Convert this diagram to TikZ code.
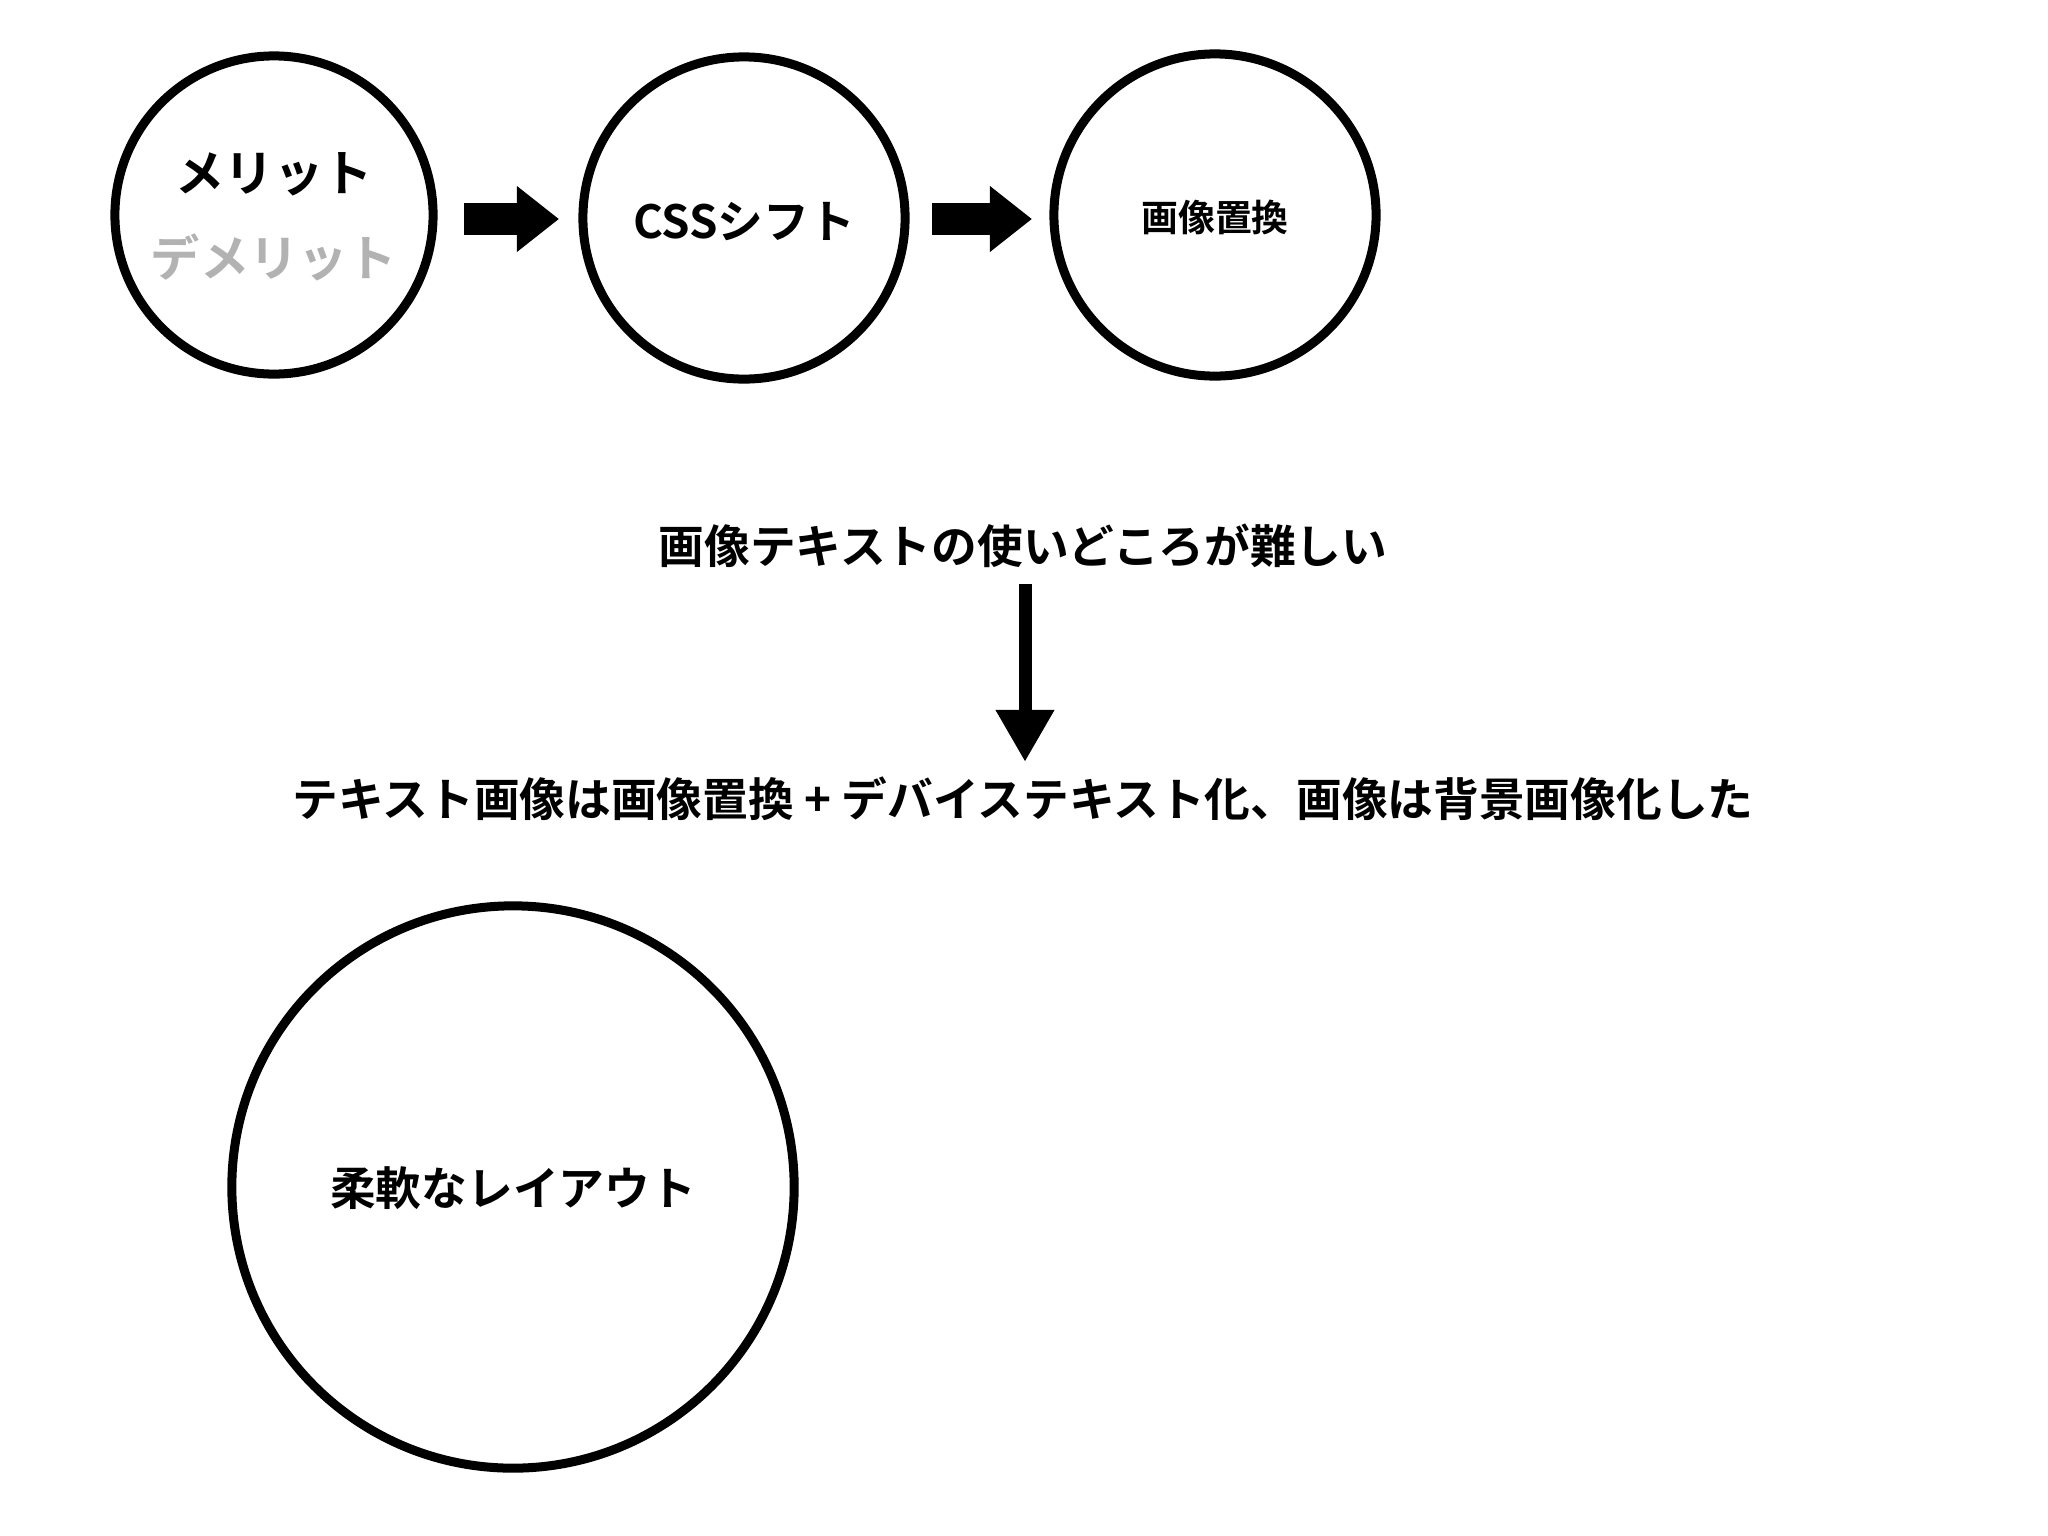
\documentclass[tikz,border=0pt]{standalone}
\usepackage{fontspec}
\setmainfont{Noto Sans CJK JP Bold}
\usetikzlibrary{arrows.meta}
\begin{document}
\begin{tikzpicture}[x=0.01cm,y=-0.01cm,
  circ/.style={draw,circle,line width=0.09cm,inner sep=0},
  blk/.style={line width=0.31cm,-{Triangle[width=0.63cm,length=0.42cm]}},
  vblk/.style={line width=0.13cm,-{Triangle[width=0.55cm,length=0.52cm]}},
  lbl/.style={font=\fontsize{13pt}{15pt}\selectfont}]
\useasboundingbox (0,0) rectangle (2048,1536);
\node[circ,minimum size=3.18cm] (c1) at (274,215) {};
\node[circ,minimum size=3.22cm] (c2) at (744,218) {};
\node[circ,minimum size=3.22cm] (c3) at (1215,215) {};
\node[circ,minimum size=5.62cm] (c4) at (513,1187) {};
\node[lbl,font=\fontsize{14pt}{16pt}\selectfont] (m1) at (274,174) {メリット};
\node[lbl,font=\fontsize{14pt}{16pt}\selectfont,text=black!30] (m2) at (274,257) {デメリット};
\node[lbl] (t2) at (744,222) {CSSシフト};
\node[lbl,font=\fontsize{10.5pt}{12pt}\selectfont] (t3) at (1215,217) {画像置換};
\node[lbl] (t4) at (513,1188) {柔軟なレイアウト};
\node[lbl] (h1) at (1023,546) {画像テキストの使いどころが難しい};
\node[lbl] (h2) at (1023,799) {テキスト画像は画像置換 + デバイステキスト化、画像は背景画像化した};
\coordinate (a1s) at (464,219); \coordinate (a1e) at (559,219);
\coordinate (a2s) at (932,219); \coordinate (a2e) at (1032,219);
\coordinate (vs) at (1025,584); \coordinate (ve) at (1025,762);
\draw[blk] (a1s) -- (a1e);
\draw[blk] (a2s) -- (a2e);
\draw[vblk] (vs) -- (ve);
\end{tikzpicture}
\end{document}
